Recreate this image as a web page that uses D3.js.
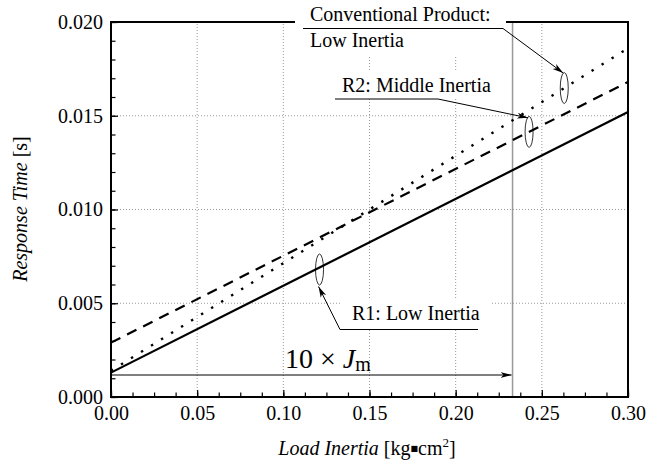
<!DOCTYPE html>
<meta charset="utf-8">
<script src="https://d3js.org/d3.v7.min.js"></script>
<style>
  body { margin: 0; background: #fff; }
  text { font-family: "Liberation Serif", "Times New Roman", serif; fill: #000; }
</style>
<div id="chart"></div>
<script>

// load inertia [kg·cm2] at both ends of the lines
var inertia = [0, 0.30];
// response time [s] at those two ends
var r1Time   = [0.0013, 0.0152];
var r2Time   = [0.0029, 0.0168];
var convTime = [0.0014, 0.0186];

var xTicks = [0, 0.05, 0.10, 0.15, 0.20, 0.25, 0.30];
var yTicks = [0, 0.005, 0.010, 0.015, 0.020];
var jm10 = 0.233;   // 10 x Jm

var W = 662, H = 466;
var margin = {top: 22, right: 34, bottom: 69, left: 111};

var svg = d3.select("#chart").append("svg")
  .attr("width", W).attr("height", H);

var x = d3.scaleLinear().domain([0, 0.30]).range([margin.left, W - margin.right]);
var y = d3.scaleLinear().domain([0, 0.020]).range([H - margin.bottom, margin.top]);

var x0 = x.range()[0], x1 = x.range()[1], y0 = y.range()[0], y1 = y.range()[1];

// grid
svg.append("g").selectAll("line")
  .data(xTicks.slice(1, -1)).enter().append("line")
    .attr("x1", d => x(d)).attr("x2", d => x(d))
    .attr("y1", y0).attr("y2", y1)
    .attr("stroke", "#9a9a9a").attr("stroke-width", 1).attr("stroke-dasharray", "1,2");
svg.append("g").selectAll("line")
  .data(yTicks.slice(1, -1)).enter().append("line")
    .attr("x1", x0).attr("x2", x1)
    .attr("y1", d => y(d)).attr("y2", d => y(d))
    .attr("stroke", "#9a9a9a").attr("stroke-width", 1).attr("stroke-dasharray", "1,2");

// 10 x Jm marker line
svg.append("line")
  .attr("x1", x(jm10)).attr("x2", x(jm10)).attr("y1", y0).attr("y2", y1)
  .attr("stroke", "#999").attr("stroke-width", 1.5);

// axes, ticks pointing inward
svg.append("g").attr("transform", "translate(0," + y0 + ")")
  .call(d3.axisBottom(x).tickValues(xTicks).tickSize(-7).tickPadding(9).tickFormat(d3.format(".2f")));
svg.append("g").attr("transform", "translate(0," + y0 + ")")
  .call(d3.axisBottom(x).tickValues(d3.range(0, 0.3001, 0.0125)).tickSize(-4.5).tickFormat(""));
svg.append("g").attr("transform", "translate(" + x0 + ",0)")
  .call(d3.axisLeft(y).tickValues(yTicks).tickSize(-7).tickPadding(8).tickFormat(d3.format(".3f")));
svg.append("g").attr("transform", "translate(" + x0 + ",0)")
  .call(d3.axisLeft(y).tickValues(d3.range(0, 0.0201, 0.001)).tickSize(-4.5).tickFormat(""));
svg.selectAll(".domain").remove();
svg.selectAll(".tick line").attr("stroke", "#000").attr("stroke-width", 1.2);
svg.selectAll(".tick text").style("font-size", "20px").style("font-family", "'Liberation Serif'");

// frame
svg.append("rect")
  .attr("x", x0).attr("y", y1).attr("width", x1 - x0).attr("height", y0 - y1)
  .attr("fill", "none").attr("stroke", "#000").attr("stroke-width", 2);

// data lines
var series = [
  {vals: r1Time,   dash: null,       w: 2.2},
  {vals: r2Time,   dash: "10.5,7.5", w: 2.2},
  {vals: convTime, dash: "2.4,9.4",  w: 2.4}
];
var line = d3.line().x((d, i) => x(inertia[i])).y(d => y(d));
svg.append("g").selectAll("path")
  .data(series).enter().append("path")
    .attr("d", d => line(d.vals))
    .attr("fill", "none").attr("stroke", "#000")
    .attr("stroke-width", d => d.w)
    .attr("stroke-dasharray", d => d.dash);

// arrow marker
svg.append("defs").append("marker")
  .attr("id", "arr").attr("markerUnits", "userSpaceOnUse")
  .attr("viewBox", "-11 -4 12 8").attr("refX", 0).attr("refY", 0)
  .attr("markerWidth", 12).attr("markerHeight", 8).attr("orient", "auto")
  .append("path").attr("d", "M0,0L-11,-3L-8,0L-11,3Z").attr("fill", "#000");

function at(vals, xv) { return d3.scaleLinear().domain(inertia).range(vals)(xv); }

// annotations: white box, text lines, underline + leader to the ring
var notes = [
  {vals: convTime, xv: 0.263, lines: ["Conventional Product:", "Low Inertia"],
   box: [295, 0, 211, 55], tx: 310, ty: [21, 47], ul: [303, 503, 28.5], tipDy: -15},
  {vals: r2Time, xv: 0.2426, lines: ["R2: Middle Inertia"],
   box: [335, 72, 162, 27], tx: 342, ty: [92], ul: [335, 438, 99], tipDy: -14},
  {vals: r1Time, xv: 0.121, lines: ["R1: Low Inertia"],
   box: [340, 299, 152, 30], tx: 352, ty: [320], ul: [478, 340, 329.5], tipDy: 17}
];
var ng = svg.append("g");
notes.forEach(function(n) {
  var cx = x(n.xv), cy = y(at(n.vals, n.xv)) + (n.tipDy > 0 ? 2 : 0);
  ng.append("rect").attr("x", n.box[0]).attr("y", n.box[1])
    .attr("width", n.box[2]).attr("height", n.box[3]).attr("fill", "#fff");
  n.lines.forEach(function(t, i) {
    ng.append("text").attr("x", n.tx).attr("y", n.ty[i]).style("font-size", "20px").text(t);
  });
  ng.append("ellipse").attr("cx", cx).attr("cy", cy).attr("rx", 4).attr("ry", 15.5)
    .attr("fill", "none").attr("stroke", "#000").attr("stroke-width", 0.8);
  ng.append("polyline")
    .attr("points", [[n.ul[0], n.ul[2]], [n.ul[1], n.ul[2]], [cx - 1, cy + n.tipDy]].join(" "))
    .attr("fill", "none").attr("stroke", "#000").attr("stroke-width", 1)
    .attr("marker-end", "url(#arr)");
});
// top border segment left of the conventional label box
svg.append("line").attr("x1", x0).attr("x2", 295).attr("y1", y1).attr("y2", y1)
  .attr("stroke", "#000").attr("stroke-width", 2);

// 10 x Jm arrow
svg.append("line")
  .attr("x1", x0).attr("x2", x(jm10) - 1).attr("y1", y0 - 22).attr("y2", y0 - 22)
  .attr("stroke", "#000").attr("stroke-width", 1).attr("marker-end", "url(#arr)");
var jt = svg.append("text").attr("x", 285).attr("y", y0 - 29).style("font-size", "28px");
jt.append("tspan").text("10 \u00d7 ");
jt.append("tspan").style("font-style", "italic").text("J");
jt.append("tspan").attr("dy", 3).style("font-size", "20px").text("m");

// axis titles
var xt = svg.append("text").attr("x", 367).attr("y", 455)
  .attr("text-anchor", "middle").style("font-size", "20px");
xt.append("tspan").style("font-style", "italic").text("Load Inertia");
xt.append("tspan").text(" [kg");
xt.append("tspan").style("font-family", "'DejaVu Sans'").style("font-size", "8px").attr("dy", -4).text("\u25a0");
xt.append("tspan").attr("dy", 4).text("cm");
xt.append("tspan").attr("dy", -8).style("font-size", "13px").text("2");
xt.append("tspan").attr("dy", 8).text("]");

var yt = svg.append("text").attr("transform", "translate(27,209) rotate(-90)")
  .attr("text-anchor", "middle").style("font-size", "20px");
yt.append("tspan").style("font-style", "italic").text("Response Time");
yt.append("tspan").text(" [s]");

</script>
